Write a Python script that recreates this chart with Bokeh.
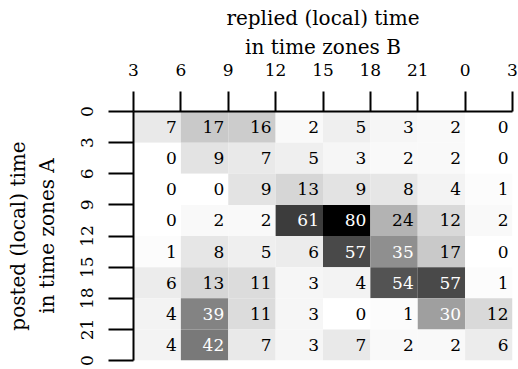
from bokeh.plotting import figure
from bokeh.models import FixedTicker, Range1d, ColumnDataSource, LinearColorMapper
from bokeh.transform import transform
from bokeh.core.properties import value
from bokeh.embed import file_html
from bokeh.resources import INLINE

# Data
x_tick_labels = ["3", "6", "9", "12", "15", "18", "21", "0", "3"]
y_tick_labels = ["0", "3", "6", "9", "12", "15", "18", "21", "0"]
row0 = [7, 17, 16, 2, 5, 3, 2, 0]
row1 = [0, 9, 7, 5, 3, 2, 2, 0]
row2 = [0, 0, 9, 13, 9, 8, 4, 1]
row3 = [0, 2, 2, 61, 80, 24, 12, 2]
row4 = [1, 8, 5, 6, 57, 35, 17, 0]
row5 = [6, 13, 11, 3, 4, 54, 57, 1]
row6 = [4, 39, 11, 3, 0, 1, 30, 12]
row7 = [4, 42, 7, 3, 7, 2, 2, 6]
rows = [row0, row1, row2, row3, row4, row5, row6, row7]

xs, ys, vals, labels, tcolors = [], [], [], [], []
for r, row in enumerate(rows):
    for c, v in enumerate(row):
        xs.append(c)
        ys.append(r)
        vals.append(v)
        labels.append(str(v))
        tcolors.append("white" if v >= 30 else "black")

src = ColumnDataSource(dict(
    left=xs, right=[x + 1 for x in xs], top=ys, bottom=[y + 1 for y in ys],
    ymid=[y + 0.5 for y in ys], v=vals, label=labels, tcolor=tcolors,
))

FONT = "DejaVu Serif"

p = figure(width=518, height=369, output_backend="svg", toolbar_location=None,
           x_range=Range1d(0, 8), y_range=Range1d(8, 0),
           x_axis_location="above", y_axis_location="left",
           min_border_left=133, min_border_right=6, min_border_top=111,
           min_border_bottom=9)
p.outline_line_color = None
p.xgrid.visible = False
p.ygrid.visible = False
p.background_fill_color = "white"
p.border_fill_color = "white"

palette = ["#%02x%02x%02x" % (g, g, g) for g in range(255, -1, -1)]
mapper = LinearColorMapper(palette=palette, low=0, high=80)

p.quad(left="left", right="right", top="top", bottom="bottom", source=src,
       fill_color=transform("v", mapper), line_color=None)

p.text(x="right", y="ymid", text="label", source=src, x_offset=-4,
       text_align="right", text_baseline="middle", text_color="tcolor",
       text_font=value(FONT), text_font_size="17px")

xa = p.xaxis[0]
xa.ticker = FixedTicker(ticks=list(range(9)))
xa.major_label_overrides = {i: t for i, t in enumerate(x_tick_labels)}
ya = p.yaxis[0]
ya.ticker = FixedTicker(ticks=list(range(9)))
ya.major_label_overrides = {i: t for i, t in enumerate(y_tick_labels)}
ya.major_label_orientation = "vertical"

xa.axis_label = "replied (local) time\nin time zones B"
ya.axis_label = "posted (local) time\nin time zones A"

for ax, tick_out, std, astd in ((xa, 20, 16, 2), (ya, 25, 16, 19)):
    ax.axis_line_width = 2
    ax.axis_line_color = "black"
    ax.major_tick_line_width = 2
    ax.major_tick_line_color = "black"
    ax.major_tick_in = 0
    ax.major_tick_out = tick_out
    ax.minor_tick_line_color = None
    ax.major_label_text_font = FONT
    ax.major_label_text_font_size = "17px"
    ax.major_label_text_color = "black"
    ax.major_label_standoff = std
    ax.axis_label_text_font = FONT
    ax.axis_label_text_font_style = "normal"
    ax.axis_label_text_font_size = "20px"
    ax.axis_label_text_color = "black"
    ax.axis_label_standoff = astd

open("out.html", "w").write(file_html(p, INLINE))
